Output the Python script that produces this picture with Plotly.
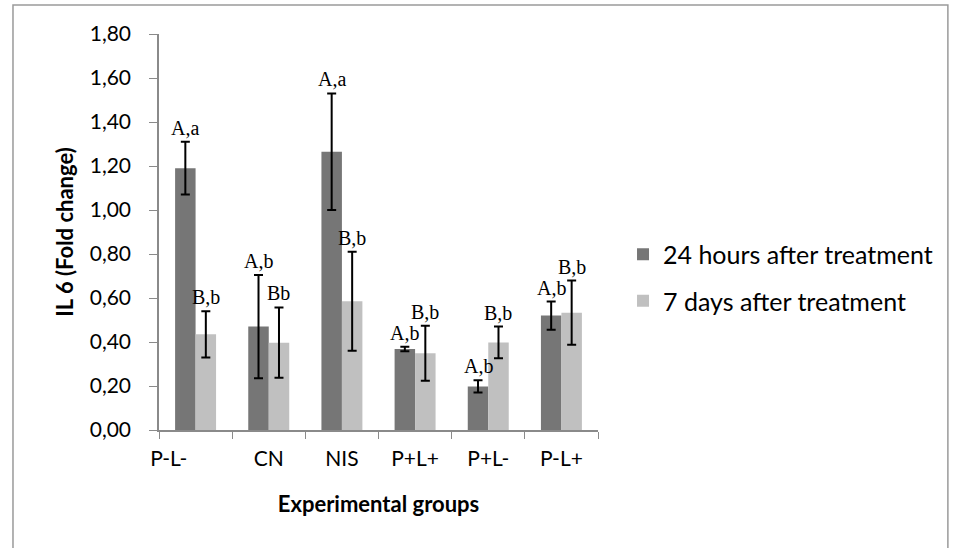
import plotly.graph_objects as go

groups = ["P-L-", "CN", "NIS", "P+L+", "P+L-", "P-L+"]
tick_labels = ["P-L-" + "\u00a0" * 10, "CN", "NIS", "P+L+", "P+L-", "P-L+"]
h24 = [1.19, 0.47, 1.265, 0.368, 0.198, 0.52]
h24_err = [0.12, 0.235, 0.265, 0.01, 0.028, 0.064]
d7 = [0.435, 0.397, 0.585, 0.349, 0.398, 0.533]
d7_err = [0.105, 0.16, 0.225, 0.125, 0.072, 0.146]
lab24 = ["A,a", "A,b", "A,a", "A,b", "A,b", "A,b"]
lab7 = ["B,b", "Bb", "B,b", "B,b", "B,b", "B,b"]

FONT = "Lato"
SERIF = "Liberation Serif"

fig = go.Figure()
fig.add_trace(go.Bar(
    x=groups, y=h24, name="24 hours after treatment",
    marker=dict(color="#767676", line=dict(width=0)),
    error_y=dict(type="data", array=h24_err, color="black", thickness=2, width=4.5),
    legendgroup="a",
))
fig.add_trace(go.Bar(
    x=groups, y=d7, name="7 days after treatment",
    marker=dict(color="#c0c0c0", line=dict(width=0)),
    error_y=dict(type="data", array=d7_err, color="black", thickness=2, width=4.5),
    legendgroup="b",
))

plot_w = 960 - 159 - 362
cat_px = plot_w / len(groups)
bargap = 0.44
bar_px = cat_px * (1 - bargap) / 2

annots = []
for i, g in enumerate(groups):
    annots.append(dict(x=g, y=h24[i] + h24_err[i], text=lab24[i], showarrow=False,
                       xshift=-bar_px / 2, yanchor="bottom", yshift=1,
                       font=dict(family=SERIF, size=20, color="black")))
    annots.append(dict(x=g, y=d7[i] + d7_err[i], text=lab7[i], showarrow=False,
                       xshift=bar_px / 2, yanchor="bottom", yshift=1,
                       font=dict(family=SERIF, size=20, color="black")))

fig.update_layout(
    width=960, height=548,
    margin=dict(l=159, r=362, t=34, b=118),
    paper_bgcolor="white", plot_bgcolor="white",
    barmode="group", bargap=bargap, bargroupgap=0,
    separators=",.",
    font=dict(family=FONT, size=20, color="black"),
    showlegend=True,
    legend=dict(x=1.057, y=0.385, xanchor="left", yanchor="middle",
                font=dict(family=FONT, size=25, color="black"),
                tracegroupgap=11, bgcolor="rgba(0,0,0,0)"),
    xaxis=dict(
        tickmode="array", tickvals=groups, ticktext=tick_labels, tickangle=0,
        tickson="boundaries", ticks="outside", ticklen=7, tickcolor="#8a8a8a",
        showline=True, linecolor="#8a8a8a", linewidth=1.5,
        showgrid=False, tickfont=dict(family=FONT, size=21, color="black"),
        ticklabelstandoff=9,
        title=dict(text="<b>Experimental groups</b>", font=dict(family=FONT, size=22, color="black"),
                   standoff=28),
    ),
    yaxis=dict(
        range=[0, 1.8], dtick=0.2, tickformat=".2f",
        ticks="outside", ticklen=8, tickcolor="#8a8a8a",
        showline=True, linecolor="#8a8a8a", linewidth=1.5,
        showgrid=False, zeroline=False,
        tickfont=dict(family=FONT, size=21, color="black"),
        ticklabelstandoff=14,
        title=dict(text="<b>IL 6 (Fold change)</b>", font=dict(family=FONT, size=22, color="black"),
                   standoff=10),
    ),
    annotations=annots,
    shapes=[dict(type="rect", xref="paper", yref="paper",
                 x0=-0.3326, x1=1.797, y0=-0.5, y1=1.073,
                 line=dict(color="#9a9a9a", width=1.5), layer="below")],
)

fig.write_html("out.html")
